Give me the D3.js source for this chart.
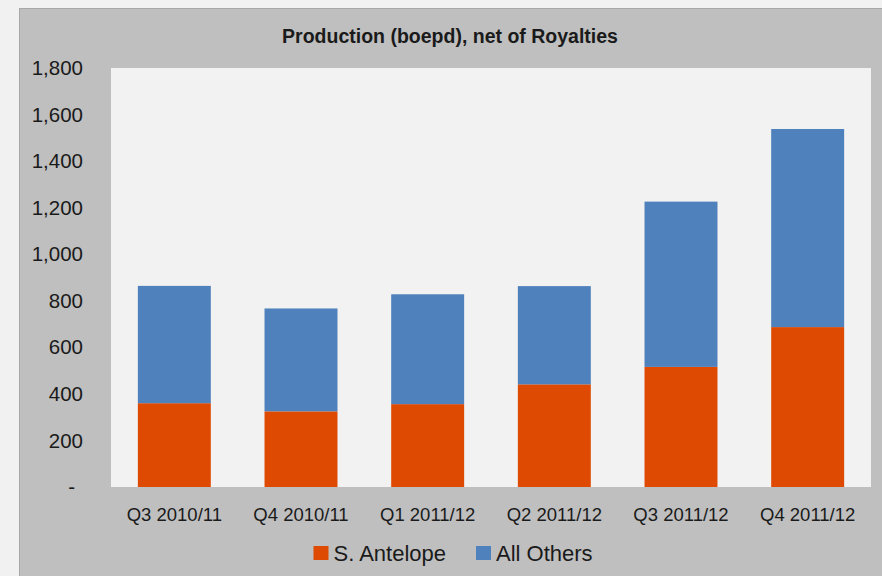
<!DOCTYPE html>
<html>
<head>
<meta charset="utf-8">
<script src="https://cdn.jsdelivr.net/npm/d3@7"></script>
<style>
  body { margin: 0; background: #f1f1f1; }
  text { font-family: "Liberation Sans", Arial, sans-serif; fill: #1a1a1a; }
</style>
</head>
<body>
<script>
// Data
const quarters = ['Q3 2010/11', 'Q4 2010/11', 'Q1 2011/12', 'Q2 2011/12', 'Q3 2011/12', 'Q4 2011/12'];
const antelope = [360, 325, 356, 441, 516, 687];
const others = [504, 442, 472, 422, 710, 851];
const seriesNames = ['S. Antelope', 'All Others'];
const yTicks = [0, 200, 400, 600, 800, 1000, 1200, 1400, 1600, 1800];

const width = 882;
const height = 576;
const colors = ['#df4a03', '#4f81bd'];

const svg = d3.select('body')
  .append('svg')
  .attr('width', width)
  .attr('height', height);

// Gray panel
svg.append('rect')
  .attr('x', 19.5)
  .attr('y', 8.5)
  .attr('width', 880)
  .attr('height', 600)
  .attr('fill', '#bfbfbf')
  .attr('stroke', '#a8a8a8');

// Plot area
const plot = { left: 111, right: 871, top: 68, bottom: 487 };

svg.append('rect')
  .attr('x', plot.left)
  .attr('y', plot.top)
  .attr('width', plot.right - plot.left)
  .attr('height', plot.bottom - plot.top)
  .attr('fill', '#f2f2f2');

// Title
svg.append('text')
  .attr('x', 450)
  .attr('y', 43)
  .attr('text-anchor', 'middle')
  .attr('font-size', '19.5px')
  .attr('font-weight', 'bold')
  .text('Production (boepd), net of Royalties');

// Scales
const xScale = d3.scaleBand()
  .domain(quarters)
  .range([plot.left, plot.right])
  .paddingInner(0.424)
  .paddingOuter(0.212);

const yScale = d3.scaleLinear()
  .domain([0, 1800])
  .range([plot.bottom, plot.top]);

// Y axis
const yAxis = d3.axisLeft(yScale)
  .tickValues(yTicks)
  .tickSize(0)
  .tickPadding(0)
  .tickFormat((d) => (d === 0 ? '-' : d3.format(',')(d)));

const yAxisG = svg.append('g')
  .attr('transform', 'translate(83,0)')
  .call(yAxis);
yAxisG.select('.domain').remove();
yAxisG.selectAll('text')
  .attr('font-size', '20.5px')
  .attr('fill', '#1a1a1a')
  .attr('font-family', '"Liberation Sans", Arial, sans-serif');
yAxisG.selectAll('.tick')
  .filter((d) => d === 0)
  .select('text')
  .attr('dx', -8);

// X axis
const xAxis = d3.axisBottom(xScale)
  .tickSize(0)
  .tickPadding(0);

const xAxisG = svg.append('g')
  .attr('transform', `translate(0,${plot.bottom + 21})`)
  .call(xAxis);
xAxisG.select('.domain').remove();
xAxisG.selectAll('text')
  .attr('font-size', '18.5px')
  .attr('fill', '#1a1a1a')
  .attr('font-family', '"Liberation Sans", Arial, sans-serif');

// Stacked bars
const rows = quarters.map((q, i) => ({ quarter: q, antelope: antelope[i], others: others[i] }));
const stacked = d3.stack().keys(['antelope', 'others'])(rows);

svg.append('g')
  .selectAll('g')
  .data(stacked)
  .join('g')
  .attr('fill', (d, i) => colors[i])
  .selectAll('rect')
  .data((d) => d)
  .join('rect')
  .attr('x', (d) => xScale(d.data.quarter))
  .attr('y', (d) => yScale(d[1]))
  .attr('width', xScale.bandwidth())
  .attr('height', (d) => yScale(d[0]) - yScale(d[1]));

// Legend
const legendX = [313.5, 476];
const legend = svg.append('g')
  .selectAll('g')
  .data(seriesNames)
  .join('g')
  .attr('transform', (d, i) => `translate(${legendX[i]},546)`);

legend.append('rect')
  .attr('width', 15)
  .attr('height', 14)
  .attr('fill', (d, i) => colors[i]);

legend.append('text')
  .attr('x', 20)
  .attr('y', 14.5)
  .attr('font-size', '22px')
  .text((d) => d);
</script>
</body>
</html>
